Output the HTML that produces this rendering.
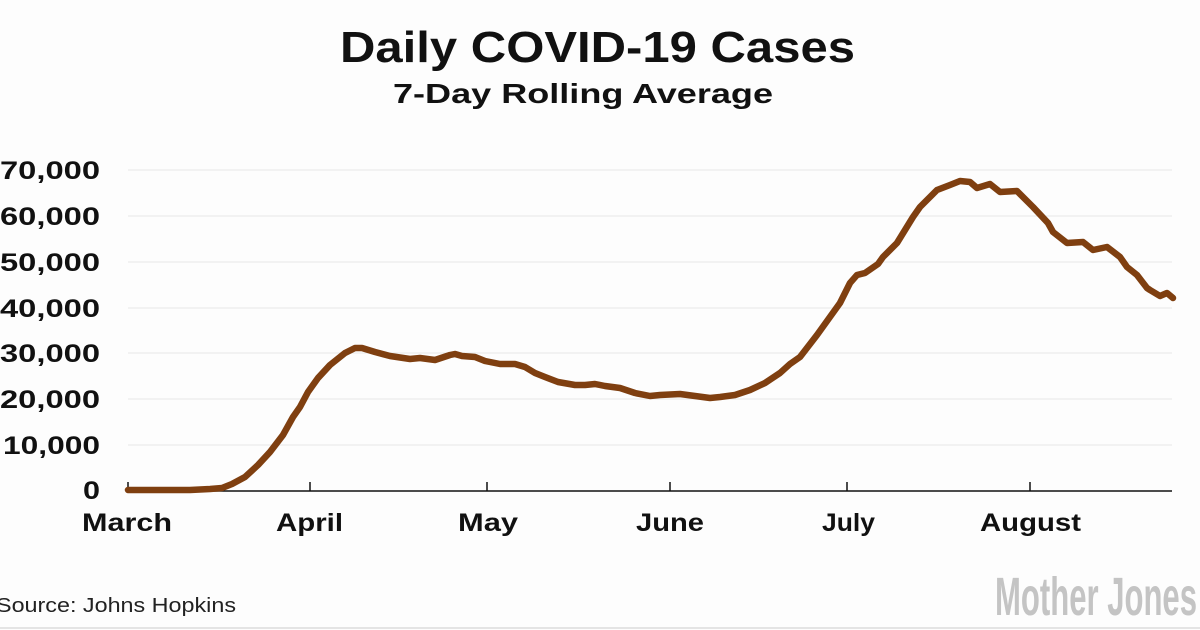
<!DOCTYPE html>
<html><head><meta charset="utf-8"><style>
body{margin:0;background:#fdfdfd;}
svg{display:block;font-family:"Liberation Sans",sans-serif;}
</style></head><body>
<svg width="1200" height="630" viewBox="0 0 1200 630">
<rect width="1200" height="630" fill="#fdfdfd"/>
<text x="340" y="62" font-size="44" font-weight="bold" fill="#111" textLength="515" lengthAdjust="spacingAndGlyphs">Daily COVID-19 Cases</text>
<text x="393" y="103" font-size="28" font-weight="bold" fill="#111" textLength="380" lengthAdjust="spacingAndGlyphs">7-Day Rolling Average</text>
<g stroke="#e6e6e6" stroke-width="1">
<line x1="128" y1="170" x2="1172" y2="170"/><line x1="128" y1="216" x2="1172" y2="216"/>
<line x1="128" y1="262" x2="1172" y2="262"/><line x1="128" y1="308" x2="1172" y2="308"/>
<line x1="128" y1="353" x2="1172" y2="353"/><line x1="128" y1="399" x2="1172" y2="399"/>
<line x1="128" y1="445" x2="1172" y2="445"/>
</g>
<g font-size="25" font-weight="bold" fill="#111" lengthAdjust="spacingAndGlyphs">
<text x="0" y="179" textLength="100" lengthAdjust="spacingAndGlyphs">70,000</text>
<text x="0" y="225" textLength="100" lengthAdjust="spacingAndGlyphs">60,000</text>
<text x="0" y="271" textLength="100" lengthAdjust="spacingAndGlyphs">50,000</text>
<text x="0" y="317" textLength="100" lengthAdjust="spacingAndGlyphs">40,000</text>
<text x="0" y="362" textLength="100" lengthAdjust="spacingAndGlyphs">30,000</text>
<text x="0" y="408" textLength="100" lengthAdjust="spacingAndGlyphs">20,000</text>
<text x="3" y="454" textLength="97" lengthAdjust="spacingAndGlyphs">10,000</text>
<text x="83" y="499" textLength="17" lengthAdjust="spacingAndGlyphs">0</text>
</g>
<g stroke="#111" stroke-width="1.5">
<line x1="128" y1="491" x2="1172" y2="491"/>
<line x1="128" y1="482" x2="128" y2="491"/><line x1="310" y1="482" x2="310" y2="491"/>
<line x1="487" y1="482" x2="487" y2="491"/><line x1="670" y1="482" x2="670" y2="491"/>
<line x1="847" y1="482" x2="847" y2="491"/><line x1="1030" y1="482" x2="1030" y2="491"/>
</g>
<g font-size="25" font-weight="bold" fill="#111">
<text x="82" y="531" textLength="90" lengthAdjust="spacingAndGlyphs">March</text>
<text x="276" y="531" textLength="67" lengthAdjust="spacingAndGlyphs">April</text>
<text x="458" y="531" textLength="60" lengthAdjust="spacingAndGlyphs">May</text>
<text x="636" y="531" textLength="68" lengthAdjust="spacingAndGlyphs">June</text>
<text x="822" y="531" textLength="53" lengthAdjust="spacingAndGlyphs">July</text>
<text x="980" y="531" textLength="101" lengthAdjust="spacingAndGlyphs">August</text>
</g>
<polyline fill="none" stroke="#7f3f10" stroke-width="6.5" stroke-linejoin="round" stroke-linecap="round" points="128,490 150,490 190,490 210,489 222,488 232,484 245,477 258,465 270,452 283,435 293,417 300,407 308,392 318,378 330,365 345,353 355,348 362,348 375,352 390,356 410,359 420,358 435,360 450,355 455,354 462,356 475,357 485,361 500,364 515,364 525,367 535,373 545,377 558,382 575,385 585,385 595,384 605,386 620,388 635,393 650,396 660,395 680,394 695,396 710,398 720,397 735,395 750,390 765,383 780,373 790,364 800,357 817,335 840,303 850,283 857,275 865,273 878,264 883,257 897,243 913,217 920,207 930,197 937,190 950,185 960,181 970,182 977,188 990,184 1000,192 1017,191 1033,207 1048,223 1053,232 1067,243 1083,242 1093,250 1107,247 1120,257 1127,267 1137,275 1147,288 1150,290 1160,296 1167,293 1173,298"/>
<text x="-4" y="612" font-size="20" fill="#222" textLength="240" lengthAdjust="spacingAndGlyphs">Source: Johns Hopkins</text>
<text x="995" y="615" font-size="54" font-weight="bold" fill="#c4c4c4" textLength="202" lengthAdjust="spacingAndGlyphs">Mother Jones</text>
<line x1="0" y1="628" x2="1200" y2="628" stroke="#ccc" stroke-width="1"/>
</svg>
</body></html>
